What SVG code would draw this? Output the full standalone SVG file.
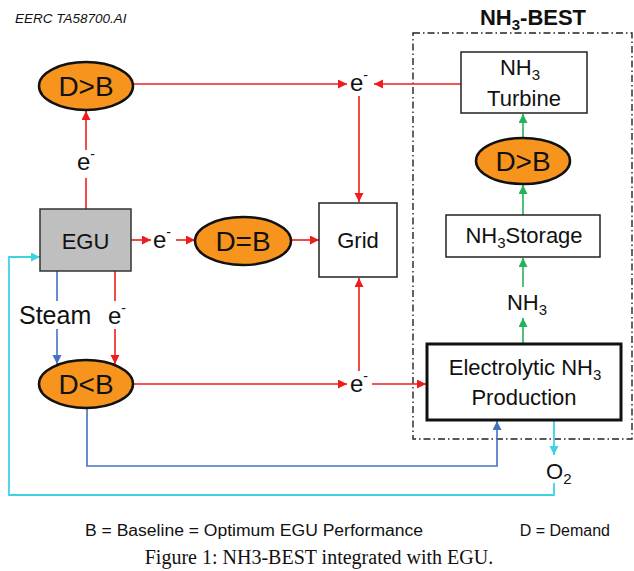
<svg xmlns="http://www.w3.org/2000/svg" width="634" height="571" viewBox="0 0 634 571">
<defs>
<style>
text{font-family:"Liberation Sans",Arial,sans-serif;fill:#111}
.lbl{font-size:22px;text-anchor:middle}
.ell{font-size:28px;text-anchor:middle}
.e{font-size:24px}
.sup{font-size:14px}
.sub{font-size:15px}
.oval{fill:#f7941d;stroke:#111;stroke-width:2.5}
.box{fill:#fff;stroke:#222;stroke-width:1.5}
.r{stroke:#f01c1c;stroke-width:1.6;fill:none}
.g{stroke:#22b35a;stroke-width:1.6;fill:none}
.b{stroke:#4472c4;stroke-width:1.6;fill:none}
.c{stroke:#3fd2e2;stroke-width:1.8;fill:none}
</style>
<marker id="mr" markerUnits="userSpaceOnUse" markerWidth="10" markerHeight="10" refX="9" refY="4.5" orient="auto"><path d="M0,0 L9,4.5 L0,9 Z" fill="#f01c1c"/></marker>
<marker id="mg" markerUnits="userSpaceOnUse" markerWidth="10" markerHeight="10" refX="9" refY="4.5" orient="auto"><path d="M0,0 L9,4.5 L0,9 Z" fill="#22b35a"/></marker>
<marker id="mb" markerUnits="userSpaceOnUse" markerWidth="10" markerHeight="10" refX="9" refY="4.5" orient="auto"><path d="M0,0 L9,4.5 L0,9 Z" fill="#4472c4"/></marker>
<marker id="mc" markerUnits="userSpaceOnUse" markerWidth="10" markerHeight="10" refX="9" refY="4.5" orient="auto"><path d="M0,0 L9,4.5 L0,9 Z" fill="#3fd2e2"/></marker>
</defs>
<rect width="634" height="571" fill="#fff"/>

<text x="15" y="23" font-size="13.5" font-style="italic" fill="#222">EERC TA58700.AI</text>

<g id="nh3best-boundary">
<rect x="413" y="33" width="219" height="406" fill="none" stroke="#222" stroke-width="1.4" stroke-dasharray="7,3,1.5,3"/>
<text x="533" y="25" font-size="22" font-weight="bold" text-anchor="middle">NH<tspan class="sub" dy="5">3</tspan><tspan dy="-5">-BEST</tspan></text>
</g>

<g id="connectors">
<line class="r" x1="86" y1="209" x2="86" y2="178"/>
<line class="r" x1="86" y1="150" x2="86" y2="111" marker-end="url(#mr)"/>
<line class="r" x1="133" y1="84" x2="347" y2="84" marker-end="url(#mr)"/>
<line class="r" x1="461" y1="84" x2="374" y2="84" marker-end="url(#mr)"/>
<line class="r" x1="359" y1="96" x2="359" y2="202" marker-end="url(#mr)"/>
<line class="r" x1="131" y1="240" x2="151" y2="240" marker-end="url(#mr)"/>
<line class="r" x1="176" y1="240" x2="195" y2="240" marker-end="url(#mr)"/>
<line class="r" x1="291" y1="240" x2="319" y2="240" marker-end="url(#mr)"/>
<line class="b" x1="57" y1="271" x2="57" y2="301"/>
<line class="b" x1="57" y1="329" x2="57" y2="364" marker-end="url(#mb)"/>
<line class="r" x1="115" y1="271" x2="115" y2="301"/>
<line class="r" x1="115" y1="329" x2="115" y2="364" marker-end="url(#mr)"/>
<line class="r" x1="133" y1="384" x2="347" y2="384" marker-end="url(#mr)"/>
<line class="r" x1="372" y1="384" x2="426" y2="384" marker-end="url(#mr)"/>
<line class="r" x1="359" y1="371" x2="359" y2="278" marker-end="url(#mr)"/>
<line class="g" x1="523" y1="344" x2="523" y2="318" marker-end="url(#mg)"/>
<line class="g" x1="523" y1="287" x2="523" y2="258" marker-end="url(#mg)"/>
<line class="g" x1="523" y1="215" x2="523" y2="185" marker-end="url(#mg)"/>
<line class="g" x1="523" y1="138" x2="523" y2="114" marker-end="url(#mg)"/>
<polyline class="b" points="87,408 87,466 497,466 497,421" marker-end="url(#mb)"/>
<line class="c" x1="554" y1="421" x2="554" y2="455" marker-end="url(#mc)"/>
<polyline class="c" points="554,483 554,495 9,495 9,257 40,257" marker-end="url(#mc)"/>
</g>

<g id="e-labels">
<text class="e" x="77" y="170">e<tspan class="sup" dy="-11">-</tspan></text>
<text class="e" x="350" y="91">e<tspan class="sup" dy="-11">-</tspan></text>
<text class="e" x="153" y="248">e<tspan class="sup" dy="-11">-</tspan></text>
<text class="e" x="108" y="324">e<tspan class="sup" dy="-11">-</tspan></text>
<text class="e" x="350" y="392">e<tspan class="sup" dy="-11">-</tspan></text>
<text x="19" y="324" font-size="25">Steam</text>
</g>

<g id="d-gt-b-left">
<ellipse class="oval" cx="86" cy="86" rx="47" ry="24"/>
<text class="ell" x="86" y="96">D&gt;B</text>
</g>

<g id="egu">
<rect x="40" y="209" width="91" height="62" fill="#bfbfbf" stroke="#333" stroke-width="1.5"/>
<text class="lbl" x="85.5" y="249" font-size="23">EGU</text>
</g>

<g id="d-eq-b">
<ellipse class="oval" cx="243" cy="241" rx="48" ry="24"/>
<text class="ell" x="243" y="251">D=B</text>
</g>

<g id="grid">
<rect class="box" x="319" y="203" width="78" height="74"/>
<text class="lbl" x="358" y="248">Grid</text>
</g>

<g id="d-lt-b">
<ellipse class="oval" cx="86" cy="384" rx="47" ry="24"/>
<text class="ell" x="86" y="394">D&lt;B</text>
</g>

<g id="nh3-turbine">
<rect class="box" x="461" y="52" width="126" height="61"/>
<text class="lbl" x="520" y="75">NH<tspan class="sub" dy="5">3</tspan></text>
<text class="lbl" x="524" y="106">Turbine</text>
</g>

<g id="d-gt-b-right">
<ellipse class="oval" cx="523" cy="161" rx="47" ry="23"/>
<text class="ell" x="523" y="171">D&gt;B</text>
</g>

<g id="nh3-storage">
<rect class="box" x="446" y="215" width="154" height="42"/>
<text class="lbl" x="524" y="243">NH<tspan class="sub" dy="5">3</tspan><tspan dy="-5">Storage</tspan></text>
</g>

<g id="nh3-label">
<text class="lbl" x="527" y="310">NH<tspan class="sub" dy="5">3</tspan></text>
</g>

<g id="electrolytic">
<rect x="427" y="344" width="194" height="76" fill="#fff" stroke="#111" stroke-width="3"/>
<text class="lbl" x="525" y="375">Electrolytic NH<tspan class="sub" dy="5">3</tspan></text>
<text class="lbl" x="524" y="405">Production</text>
</g>

<g id="o2">
<text x="546" y="479" font-size="22">O<tspan class="sub" dy="5">2</tspan></text>
</g>

<g id="legend">
<text x="85" y="536" font-size="16" textLength="338" lengthAdjust="spacingAndGlyphs">B = Baseline = Optimum EGU Performance</text>
<text x="610" y="536" font-size="16" text-anchor="end">D = Demand</text>
</g>
<text x="319" y="564" font-size="20" text-anchor="middle" style="font-family:'Liberation Serif','Times New Roman',serif">Figure 1: NH3-BEST integrated with EGU.</text>
</svg>
